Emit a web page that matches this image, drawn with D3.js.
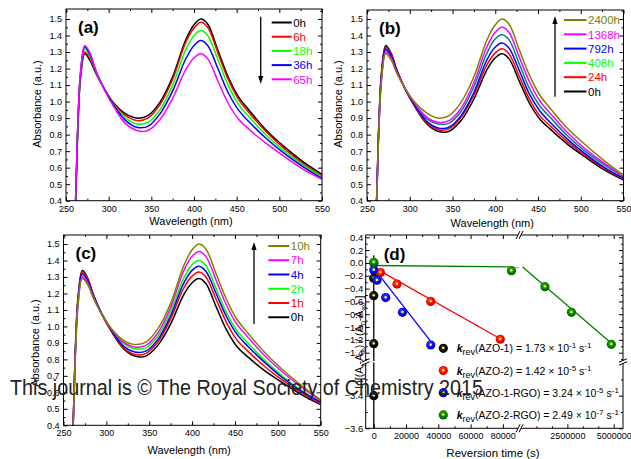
<!DOCTYPE html>
<html>
<head>
<meta charset="utf-8">
<script src="https://cdn.jsdelivr.net/npm/d3@7"></script>
<style>
  body { margin: 0; background: #fff; }
  svg { display: block; }
  text { font-family: "Liberation Sans", Arial, sans-serif; }
</style>
</head>
<body>
<svg id="fig" width="631" height="459"></svg>
<script>
// ---- spectra data ----
const wavelengths = [258, 261, 264, 267, 272, 278, 285, 295, 307, 320, 333, 346, 360, 375, 390, 400, 408, 416, 428, 440, 452, 465, 485, 505, 528, 550];
const xTicksSpec = [250, 300, 350, 400, 450, 500, 550];
const yTicksSpec = [0.4, 0.5, 0.6, 0.7, 0.8, 0.9, 1.0, 1.1, 1.2, 1.3, 1.4, 1.5];

const labelsA = ["0h", "6h", "18h", "36h", "65h"];
const colorsA = ["#000000", "#ff0000", "#00ff00", "#0000ff", "#ff00ff"];
const absA = [
  [0.05, 0.35, 0.85, 1.14, 1.29, 1.25, 1.17, 1.075, 0.985, 0.925, 0.90, 0.915, 0.995, 1.15, 1.37, 1.465, 1.50, 1.47, 1.31, 1.15, 1.03, 0.945, 0.825, 0.73, 0.635, 0.56],
  [0.05, 0.36, 0.86, 1.15, 1.30, 1.26, 1.175, 1.075, 0.98, 0.915, 0.885, 0.90, 0.98, 1.135, 1.355, 1.445, 1.48, 1.45, 1.295, 1.135, 1.015, 0.93, 0.815, 0.72, 0.625, 0.55],
  [0.05, 0.37, 0.87, 1.16, 1.32, 1.275, 1.18, 1.075, 0.975, 0.90, 0.865, 0.875, 0.95, 1.10, 1.31, 1.40, 1.43, 1.40, 1.255, 1.10, 0.985, 0.905, 0.795, 0.705, 0.615, 0.545],
  [0.05, 0.37, 0.88, 1.17, 1.33, 1.285, 1.185, 1.075, 0.97, 0.885, 0.845, 0.85, 0.925, 1.065, 1.255, 1.34, 1.37, 1.34, 1.20, 1.055, 0.95, 0.875, 0.775, 0.69, 0.605, 0.535],
  [0.05, 0.38, 0.89, 1.18, 1.34, 1.295, 1.19, 1.07, 0.96, 0.865, 0.825, 0.825, 0.89, 1.02, 1.19, 1.265, 1.29, 1.26, 1.125, 0.99, 0.895, 0.83, 0.745, 0.67, 0.59, 0.53]
];

const labelsB = ["2400h", "1368h", "792h", "408h", "24h", "0h"];
const legendColorsB = ["#808000", "#ff00ff", "#0000ff", "#00ff00", "#ff0000", "#000000"];
const lineColorsB = ["#808000", "#ff00ff", "#0000ff", "#008080", "#ff0000", "#000000"];
const absB = [
  [0.05, 0.35, 0.84, 1.13, 1.29, 1.255, 1.17, 1.075, 0.99, 0.93, 0.90, 0.915, 0.995, 1.15, 1.37, 1.465, 1.50, 1.47, 1.315, 1.16, 1.04, 0.955, 0.835, 0.74, 0.64, 0.555],
  [0.05, 0.36, 0.85, 1.14, 1.30, 1.265, 1.175, 1.075, 0.98, 0.905, 0.875, 0.885, 0.96, 1.115, 1.33, 1.42, 1.45, 1.42, 1.27, 1.12, 1.005, 0.925, 0.81, 0.715, 0.625, 0.55],
  [0.05, 0.37, 0.87, 1.16, 1.32, 1.28, 1.185, 1.075, 0.97, 0.88, 0.84, 0.845, 0.915, 1.055, 1.25, 1.33, 1.355, 1.325, 1.19, 1.045, 0.945, 0.87, 0.77, 0.685, 0.60, 0.535],
  [0.05, 0.365, 0.86, 1.15, 1.31, 1.27, 1.18, 1.075, 0.975, 0.895, 0.865, 0.87, 0.94, 1.09, 1.29, 1.38, 1.405, 1.375, 1.23, 1.08, 0.975, 0.90, 0.79, 0.70, 0.615, 0.545],
  [0.05, 0.375, 0.88, 1.17, 1.33, 1.29, 1.19, 1.07, 0.965, 0.87, 0.83, 0.835, 0.905, 1.04, 1.22, 1.295, 1.32, 1.29, 1.155, 1.015, 0.915, 0.85, 0.755, 0.675, 0.595, 0.53],
  [0.05, 0.38, 0.89, 1.18, 1.34, 1.295, 1.19, 1.07, 0.96, 0.865, 0.82, 0.82, 0.885, 1.015, 1.19, 1.265, 1.29, 1.26, 1.125, 0.99, 0.895, 0.83, 0.74, 0.665, 0.585, 0.525]
];

const labelsC = ["10h", "7h", "4h", "2h", "1h", "0h"];
const colorsC = ["#808000", "#ff00ff", "#0000ff", "#00ff00", "#ff0000", "#000000"];
const absC = [
  [0.05, 0.35, 0.84, 1.13, 1.29, 1.255, 1.17, 1.07, 0.98, 0.915, 0.89, 0.905, 0.985, 1.14, 1.365, 1.465, 1.50, 1.47, 1.32, 1.165, 1.045, 0.96, 0.84, 0.74, 0.64, 0.555],
  [0.05, 0.36, 0.85, 1.14, 1.30, 1.265, 1.175, 1.07, 0.975, 0.905, 0.875, 0.885, 0.96, 1.115, 1.335, 1.425, 1.455, 1.425, 1.28, 1.13, 1.015, 0.935, 0.82, 0.725, 0.63, 0.55],
  [0.05, 0.37, 0.87, 1.16, 1.32, 1.28, 1.185, 1.075, 0.97, 0.88, 0.845, 0.85, 0.92, 1.065, 1.26, 1.34, 1.365, 1.335, 1.20, 1.06, 0.955, 0.88, 0.78, 0.69, 0.605, 0.54],
  [0.05, 0.365, 0.86, 1.15, 1.31, 1.27, 1.18, 1.075, 0.975, 0.895, 0.865, 0.87, 0.94, 1.09, 1.29, 1.375, 1.40, 1.37, 1.23, 1.085, 0.975, 0.90, 0.795, 0.70, 0.61, 0.545],
  [0.0, 0.36, 0.87, 1.17, 1.33, 1.29, 1.19, 1.07, 0.965, 0.87, 0.83, 0.835, 0.905, 1.045, 1.23, 1.305, 1.33, 1.30, 1.165, 1.025, 0.92, 0.85, 0.755, 0.675, 0.595, 0.53],
  [0.05, 0.38, 0.89, 1.18, 1.34, 1.295, 1.19, 1.07, 0.96, 0.865, 0.82, 0.82, 0.885, 1.015, 1.19, 1.265, 1.29, 1.26, 1.12, 0.98, 0.88, 0.815, 0.73, 0.66, 0.585, 0.525]
];

// ---- kinetics data, panel (d) ----
const samplesD = ["AZO-1", "AZO-2", "AZO-1-RGO", "AZO-2-RGO"];
const colorsD = ["#000000", "#ff0000", "#0000ff", "#008000"];
const kMantissa = ["1.73", "1.42", "3.24", "2.49"];
const kExponent = ["-1", "-5", "-5", "-7"];
const timesD = [
  [0, 1.5, 3, 7, 20],
  [4150, 14400, 35300, 78400],
  [0, 2000, 7400, 17800, 35300],
  [0, 85300, 1290000, 2720000, 4870000]
];
const lnRatioD = [
  [0, -0.24, -0.51, -1.26, -3.4],
  [-0.15, -0.33, -0.60, -1.19],
  [-0.11, -0.27, -0.54, -0.77, -1.28],
  [0.01, -0.12, -0.37, -0.77, -1.27]
];
const fitIntercept = [0.12, -0.07, -0.08, -0.04];
const fitSlope = [-0.173, -1.42e-5, -3.24e-5, -2.49e-7];
const fitEnd = [21.5, 78400, 35300, 4950000];
const xTicksD1 = [0, 20000, 40000, 60000, 80000];
const xTicksD2 = [2500000, 5000000];
const yTicksD1 = [0.4, 0.2, 0.0, -0.2, -0.4, -0.6, -0.8, -1.0, -1.2, -1.4];
const yTicksD2 = [-3.4, -3.6];

const svg = d3.select("#fig");
svg.append("rect").attr("width", 631).attr("height", 459).attr("fill", "#fff");
const defs = svg.append("defs");
let clipId = 0;

function clipRect(x0, y0, x1, y1) {
  const id = "clip" + (clipId++);
  defs.append("clipPath").attr("id", id).append("rect")
    .attr("x", x0).attr("y", y0).attr("width", x1 - x0).attr("height", y1 - y0);
  return `url(#${id})`;
}

// inward Origin-style ticks on one side
function side(axisFn, scale, pos, major, minor, fmt, fs, pad, horiz) {
  const tr = horiz ? `translate(0,${pos})` : `translate(${pos},0)`;
  const a = svg.append("g").attr("transform", tr)
    .call(axisFn(scale).tickValues(major).tickSize(-4).tickPadding(pad).tickFormat(fmt || (() => "")));
  a.select(".domain").remove();
  a.attr("font-family", null).attr("font-size", null);
  a.selectAll("text").attr("font-size", fs).attr("fill", "#000");
  const b = svg.append("g").attr("transform", tr)
    .call(axisFn(scale).tickValues(minor).tickSize(-2).tickFormat(() => ""));
  b.select(".domain").remove();
}

function spectrumPanel(p) {
  const x = d3.scaleLinear().domain([250, 550]).range([p.l, p.r]);
  const y = d3.scaleLinear().domain([0.4, 1.5]).range([p.y04, p.y15]);
  const yMax = y.invert(p.t);
  const xMinor = d3.range(275, 550, 50);
  const yMinor = d3.range(0.45, yMax, 0.1);

  side(d3.axisBottom, x, p.b, xTicksSpec, xMinor, d3.format("d"), 9, p.xPad, true);
  side(d3.axisTop, x, p.t, xTicksSpec, xMinor, null, 9, 3, true);
  side(d3.axisLeft, y, p.l, yTicksSpec, yMinor, d3.format(".1f"), 9, 4, false);
  side(d3.axisRight, y, p.r, yTicksSpec, yMinor, null, 9, 3, false);

  const line = d3.line()
    .x((d, i) => x(wavelengths[i]))
    .y(d => y(d))
    .curve(d3.curveCatmullRom.alpha(0.5));
  const cg = svg.append("g").attr("clip-path", clipRect(p.l, p.t, p.r, p.b));
  p.order.forEach(i => {
    cg.append("path").attr("d", line(p.data[i])).attr("fill", "none")
      .attr("stroke", p.lineColors[i]).attr("stroke-width", 1.5);
  });

  svg.append("rect").attr("x", p.l).attr("y", p.t).attr("width", p.r - p.l).attr("height", p.b - p.t)
    .attr("fill", "none").attr("stroke", "#000").attr("stroke-width", 1);

  // legend
  p.labels.forEach((lab, i) => {
    const ly = p.legY + i * p.legStep;
    svg.append("line").attr("x1", p.legX).attr("x2", p.legX + p.legLen).attr("y1", ly).attr("y2", ly)
      .attr("stroke", p.legendColors[i]).attr("stroke-width", 2);
    svg.append("text").attr("x", p.legX + p.legLen + 1.5).attr("y", ly + 4.2)
      .attr("font-size", 11.5).attr("fill", p.legendColors[i]).text(lab);
  });
  // arrow
  const tip = p.arrowTip, tail = p.arrowTail, dir = tip > tail ? 1 : -1;
  svg.append("line").attr("x1", p.arrowX).attr("x2", p.arrowX).attr("y1", tail).attr("y2", tip - dir * 6)
    .attr("stroke", "#000").attr("stroke-width", 1.3);
  svg.append("path").attr("d", `M${p.arrowX - 2.6},${tip - dir * 8}L${p.arrowX + 2.6},${tip - dir * 8}L${p.arrowX},${tip}Z`)
    .attr("fill", "#000");

  svg.append("text").attr("x", p.l + 12).attr("y", p.t + 24).attr("font-size", 17).attr("font-weight", "bold").text(p.tag);
  svg.append("text").attr("x", (p.l + p.r) / 2 - 3).attr("y", p.titleY).attr("text-anchor", "middle")
    .attr("font-size", 11).text("Wavelength (nm)");
  svg.append("text").attr("transform", `translate(${p.l - 25},${p.yTitleC}) rotate(-90)`)
    .attr("text-anchor", "middle").attr("font-size", 11).text("Absorbance (a.u.)");
}

spectrumPanel({
  l: 66, r: 322, t: 9, b: 200.7, y04: 200.7, y15: 19, xPad: 5, titleY: 225, yTitleC: 104,
  data: absA, labels: labelsA, legendColors: colorsA, lineColors: colorsA, order: [0, 1, 2, 3, 4],
  legX: 271.7, legLen: 20, legY: 22.5, legStep: 14.2,
  arrowX: 260.7, arrowTail: 16.7, arrowTip: 84, tag: "(a)"
});
spectrumPanel({
  l: 367, r: 623.5, t: 10, b: 200.7, y04: 200.7, y15: 19, xPad: 5, titleY: 227, yTitleC: 104,
  data: absB, labels: labelsB, legendColors: legendColorsB, lineColors: lineColorsB, order: [5, 4, 3, 2, 1, 0],
  legX: 564, legLen: 22.5, legY: 20, legStep: 14.3,
  arrowX: 555, arrowTail: 96.7, arrowTip: 16, tag: "(b)"
});
spectrumPanel({
  l: 63.5, r: 320.7, t: 235, b: 425.3, y04: 425.3, y15: 244, xPad: 4, titleY: 453.5, yTitleC: 343,
  data: absC, labels: labelsC, legendColors: colorsC, lineColors: colorsC, order: [5, 4, 3, 2, 1, 0],
  legX: 268.3, legLen: 21, legY: 246, legStep: 14.25,
  arrowX: 254, arrowTail: 324, arrowTip: 242, tag: "(c)"
});

// ---- panel (d): broken axes ----
const dL = 365.7, dR = 623, dT = 235, dB = 428.3;
const xD1 = d3.scaleLinear().domain([-5000, 90000]).range([dL, 519]);
const xD2 = d3.scaleLinear().domain([0, 5500000]).range([521, dR]);
const yD1 = d3.scaleLinear().domain([0.4, -1.4]).range([237.3, 352.7]);
const yD2 = d3.scaleLinear().domain([-3.4, -3.6]).range([395.7, dB]);
const cellsX = [{ s: xD1, lo: -5000, hi: 90000, p0: dL, p1: 519.5 }, { s: xD2, lo: 90000, hi: 5500000, p0: 520.5, p1: dR }];
const cellsY = [{ s: yD1, p0: dT, p1: 361 }, { s: yD2, p0: 362.5, p1: dB }];

const fmtD = d3.format(".1f");
const xMinorD1 = [10000, 30000, 50000, 70000];
const xMinorD2 = [833333, 1666667, 3333333, 4166667];
side(d3.axisBottom, xD1, dB, xTicksD1, xMinorD1, d3.format("d"), 9, 4, true);
side(d3.axisBottom, xD2, dB, xTicksD2, xMinorD2, d3.format("d"), 9, 4, true);
side(d3.axisTop, xD1, dT, xTicksD1, xMinorD1, null, 9, 3, true);
side(d3.axisTop, xD2, dT, xTicksD2, xMinorD2, null, 9, 3, true);
const yMinorD1 = [0.3, 0.1, -0.1, -0.3, -0.5, -0.7, -0.9, -1.1, -1.3, -1.5];
side(d3.axisLeft, yD1, dL, yTicksD1, yMinorD1, fmtD, 9.5, 2.5, false);
side(d3.axisLeft, yD2, dL, yTicksD2, [-3.3, -3.5], fmtD, 9.5, 2.5, false);
side(d3.axisRight, yD1, dR, yTicksD1, yMinorD1, null, 9, 3, false);
side(d3.axisRight, yD2, dR, yTicksD2, [-3.3, -3.5], null, 9, 3, false);

// fit lines in each cell
samplesD.forEach((s, k) => {
  cellsX.forEach(cx => {
    const t0 = Math.max(0, cx.lo), t1 = Math.min(fitEnd[k], cx.hi);
    if (t0 >= t1) return;
    cellsY.forEach(cy => {
      svg.append("line")
        .attr("clip-path", clipRect(cx.p0, cy.p0, cx.p1, cy.p1))
        .attr("x1", cx.s(t0)).attr("x2", cx.s(t1))
        .attr("y1", cy.s(fitIntercept[k] + fitSlope[k] * t0))
        .attr("y2", cy.s(fitIntercept[k] + fitSlope[k] * t1))
        .attr("stroke", colorsD[k]).attr("stroke-width", 1.3);
    });
  });
});

svg.append("rect").attr("x", dL).attr("y", dT).attr("width", dR - dL).attr("height", dB - dT)
  .attr("fill", "none").attr("stroke", "#000").attr("stroke-width", 1);

// ball markers
colorsD.forEach((c, k) => {
  const g = defs.append("radialGradient").attr("id", "ball" + k).attr("cx", "45%").attr("cy", "40%").attr("r", "60%");
  g.append("stop").attr("offset", "0%").attr("stop-color", d3.interpolateRgb(c, "#fff")(0.35));
  g.append("stop").attr("offset", "60%").attr("stop-color", c);
  g.append("stop").attr("offset", "100%").attr("stop-color", d3.color(c).darker(0.8));
});
function ball(cx, cy, k) {
  svg.append("circle").attr("cx", cx).attr("cy", cy).attr("r", 4.6).attr("fill", `url(#ball${k})`);
  svg.append("circle").attr("cx", cx).attr("cy", cy - 0.3).attr("r", 1.2).attr("fill", "#ffff00");
}
samplesD.forEach((s, k) => {
  timesD[k].forEach((t, i) => {
    const v = lnRatioD[k][i];
    const xs = t > 90000 ? xD2 : xD1;
    const ys = v > -2 ? yD1 : yD2;
    ball(xs(t), ys(v), k);
  });
});

// break marks
function breakH(x, y) {
  svg.append("path").attr("d", `M${x - 4},${y + 4}L${x},${y - 4}L${x + 3},${y - 4}L${x - 1},${y + 4}Z`).attr("fill", "#fff");
  svg.append("path").attr("d", `M${x - 4},${y + 4}L${x},${y - 4}M${x - 1},${y + 4}L${x + 3},${y - 4}`)
    .attr("stroke", "#000").attr("stroke-width", 1).attr("fill", "none");
}
function breakV(x, y) {
  svg.append("path").attr("d", `M${x - 4},${y + 0.5}L${x + 4},${y - 3}L${x + 4},${y}L${x - 4},${y + 3.5}Z`).attr("fill", "#fff");
  svg.append("path").attr("d", `M${x - 4},${y + 0.5}L${x + 4},${y - 3}M${x - 4},${y + 3.5}L${x + 4},${y}`)
    .attr("stroke", "#000").attr("stroke-width", 1).attr("fill", "none");
}
breakH(520, dB); breakH(520, dT); breakV(dL, 361.7); breakV(dR, 361.7);

// legend (d)
samplesD.forEach((s, k) => {
  const ly = 348.3 + k * 22.2;
  ball(443.3, ly, k);
  const t = svg.append("text").attr("x", 456.7).attr("y", ly + 4).attr("font-size", 10.5).attr("fill", "#000");
  t.append("tspan").attr("font-weight", "bold").attr("font-style", "italic").text("k");
  t.append("tspan").attr("dy", 3).attr("font-size", 9).text("rev");
  t.append("tspan").attr("dy", -3).text(`(${s}) = ${kMantissa[k]} \u00d7 10`);
  t.append("tspan").attr("dy", -4).attr("font-size", 8).text(kExponent[k]);
  t.append("tspan").attr("dy", 4).text(" s");
  t.append("tspan").attr("dy", -4).attr("font-size", 8).text("-1");
});

svg.append("text").attr("x", dL + 18).attr("y", dT + 25).attr("font-size", 17).attr("font-weight", "bold").text("(d)");
svg.append("text").attr("x", 493).attr("y", 457).attr("text-anchor", "middle").attr("font-size", 11.5).text("Reversion time (s)");

const yt = svg.append("text").attr("transform", `translate(363,342) rotate(-90)`)
  .attr("text-anchor", "middle").attr("font-size", 10.5).attr("fill", "#000");
yt.append("tspan").text("ln[(A");
yt.append("tspan").attr("dy", 3).attr("font-size", 8).text("t");
yt.append("tspan").attr("dy", -3).text("-A");
yt.append("tspan").attr("dy", 3).attr("font-size", 8).text("\u221e");
yt.append("tspan").attr("dy", -3).text(") / (A");
yt.append("tspan").attr("dy", 3).attr("font-size", 8).text("0");
yt.append("tspan").attr("dy", -3).text("-A");
yt.append("tspan").attr("dy", 3).attr("font-size", 8).text("\u221e");
yt.append("tspan").attr("dy", -3).text(") ]");

// watermark
svg.append("text").attr("x", 10).attr("y", 395)
  .attr("font-family", "'Open Sans', 'DejaVu Sans', sans-serif").attr("font-size", 22.5)
  .attr("fill", "#222").attr("textLength", 473).attr("lengthAdjust", "spacingAndGlyphs")
  .text("This journal is \u00a9 The Royal Society of Chemistry 2015");
</script>
</body>
</html>
